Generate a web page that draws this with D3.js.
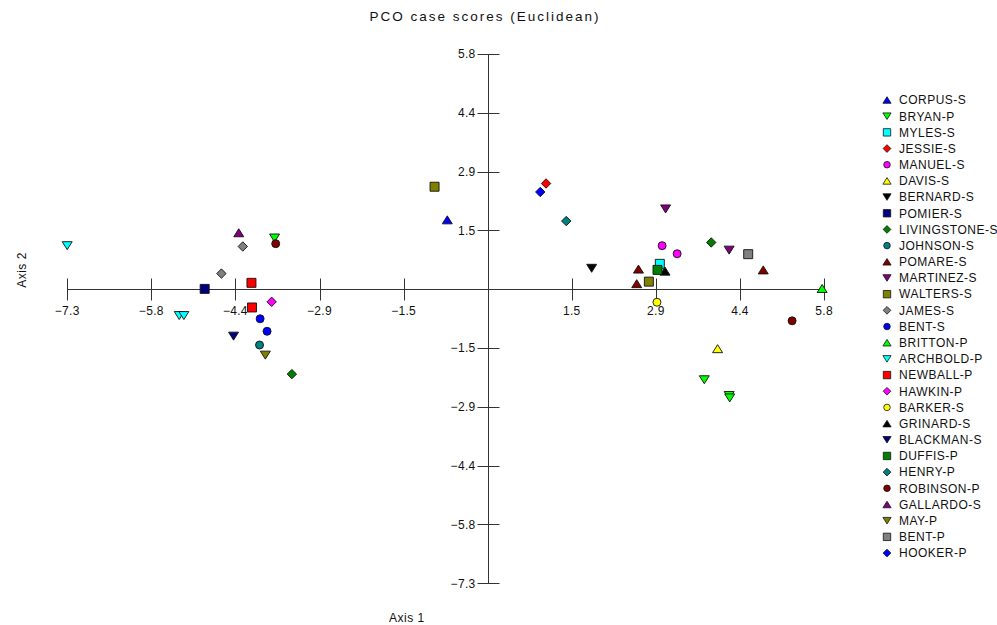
<!DOCTYPE html>
<html>
<head>
<meta charset="utf-8">
<script src="https://cdn.jsdelivr.net/npm/d3@7"></script>
<style>
  html, body { margin: 0; padding: 0; background: #fff; }
  svg { display: block; font-family: "Liberation Sans", Arial, sans-serif; }
</style>
</head>
<body>
<div id="chart"></div>
<script>
// ── Data ─────────────────────────────────────────────────────────────────────

const caseNames = [
  "CORPUS-S", "BRYAN-P", "MYLES-S", "JESSIE-S", "MANUEL-S", "DAVIS-S", "BERNARD-S",
  "POMIER-S", "LIVINGSTONE-S", "JOHNSON-S", "POMARE-S", "MARTINEZ-S", "WALTERS-S",
  "JAMES-S", "BENT-S", "BRITTON-P", "ARCHBOLD-P", "NEWBALL-P", "HAWKIN-P", "BARKER-S",
  "GRINARD-S", "BLACKMAN-S", "DUFFIS-P", "HENRY-P", "ROBINSON-P", "GALLARDO-S",
  "MAY-P", "BENT-P", "HOOKER-P"
];

// [case, axis 1, axis 2]
const scores = [
  ["CORPUS-S", -0.70, 1.72],
  ["BRYAN-P", -3.69, 1.27], ["BRYAN-P", 3.75, -2.24], ["BRYAN-P", 4.18, -2.63], ["BRYAN-P", 4.19, -2.69],
  ["MYLES-S", 2.98, 0.63],
  ["JESSIE-S", 1.01, 2.62],
  ["MANUEL-S", 3.02, 1.08], ["MANUEL-S", 3.28, 0.88],
  ["DAVIS-S", 3.98, -1.47],
  ["BERNARD-S", 1.80, 0.52],
  ["POMIER-S", -4.90, 0.01],
  ["LIVINGSTONE-S", -3.39, -2.10], ["LIVINGSTONE-S", 3.87, 1.16],
  ["JOHNSON-S", -3.95, -1.38],
  ["POMARE-S", 2.61, 0.50], ["POMARE-S", 2.58, 0.14], ["POMARE-S", 4.77, 0.48],
  ["MARTINEZ-S", 3.08, 1.99], ["MARTINEZ-S", 4.18, 0.97],
  ["WALTERS-S", -0.92, 2.54], ["WALTERS-S", 2.79, 0.19],
  ["JAMES-S", -4.24, 1.06], ["JAMES-S", -4.61, 0.39],
  ["BENT-S", -3.94, -0.73], ["BENT-S", -3.82, -1.04],
  ["BRITTON-P", 5.79, 0.02],
  ["ARCHBOLD-P", -7.28, 1.08], ["ARCHBOLD-P", -5.34, -0.65], ["ARCHBOLD-P", -5.26, -0.65],
  ["NEWBALL-P", -4.09, 0.16], ["NEWBALL-P", -4.08, -0.45],
  ["HAWKIN-P", -3.74, -0.31],
  ["BARKER-S", 2.93, -0.32],
  ["GRINARD-S", 3.07, 0.45],
  ["BLACKMAN-S", -4.40, -1.16],
  ["DUFFIS-P", 2.94, 0.48],
  ["HENRY-P", 1.36, 1.69],
  ["ROBINSON-P", -3.67, 1.13], ["ROBINSON-P", 5.27, -0.78],
  ["GALLARDO-S", -4.31, 1.40],
  ["MAY-P", -3.85, -1.63],
  ["BENT-P", 4.51, 0.87],
  ["HOOKER-P", 0.91, 2.41]
];

// same ticks on both axes (origin tick not labelled)
const axisTicks = [-7.28, -5.824, -4.368, -2.912, -1.456, 1.456, 2.912, 4.368, 5.824];
const axisDomain = [-7.28, 5.824];

// ── Styles ───────────────────────────────────────────────────────────────────

const palette = ["#0000ff", "#00ff00", "#00ffff", "#ff0000", "#ff00ff", "#ffff00", "#000000",
  "#000080", "#008000", "#008080", "#800000", "#800080", "#808000", "#808080"];
const shapes = ["up", "down", "square", "diamond", "circle"];

function markerPath(shape, k) {
  const s = k || 1;
  switch (shape) {
    case "up": return `M0,${-4 * s}L${5 * s},${4 * s}L${-5 * s},${4 * s}Z`;
    case "down": return `M${-5 * s},${-4 * s}L${5 * s},${-4 * s}L0,${4 * s}Z`;
    case "square": return `M${-4.5 * s},${-4.5 * s}h${9 * s}v${9 * s}h${-9 * s}Z`;
    case "diamond": return `M0,${-4.7 * s}L${4.7 * s},0L0,${4.7 * s}L${-4.7 * s},0Z`;
    default: return d3.symbol(d3.symbolCircle, Math.PI * 16 * s * s)();
  }
}

const styleOf = (name) => {
  const i = caseNames.indexOf(name);
  return { color: palette[i % palette.length], shape: shapes[i % shapes.length] };
};

// snap a coordinate to the pixel grid for 1px lines
const px = (v) => Math.round(v) + 0.5;

// ── Chart ────────────────────────────────────────────────────────────────────

const width = 997, height = 625;
const svg = d3.select("#chart").append("svg").attr("width", width).attr("height", height);

const x = d3.scaleLinear().domain(axisDomain).range([67.2, 824.1]);
const y = d3.scaleLinear().domain(axisDomain).range([583.3, 54.1]);
const x0 = px(x(0)), y0 = px(y(0));
const fmt = d3.format(".1f");

// title
svg.append("text")
  .attr("x", 485).attr("y", 21)
  .attr("text-anchor", "middle")
  .attr("font-size", "13.5px").attr("letter-spacing", "2px")
  .attr("fill", "#111")
  .text("PCO case scores (Euclidean)");

// axis lines
const axes = svg.append("g").attr("stroke", "#333").attr("stroke-width", 1);
axes.append("line").attr("x1", px(x(axisDomain[0]))).attr("x2", px(x(axisDomain[1]))).attr("y1", y0).attr("y2", y0);
axes.append("line").attr("x1", x0).attr("x2", x0).attr("y1", px(y(axisDomain[1]))).attr("y2", px(y(axisDomain[0])));

for (const t of axisTicks) {
  axes.append("line").attr("x1", px(x(t))).attr("x2", px(x(t))).attr("y1", y0 - 11).attr("y2", y0 + 11);
  axes.append("line").attr("x1", x0 - 11).attr("x2", x0 + 11).attr("y1", px(y(t))).attr("y2", px(y(t)));

  svg.append("text")
    .attr("x", x(t)).attr("y", y0 + 25)
    .attr("text-anchor", "middle")
    .attr("font-size", "12px").attr("letter-spacing", "0.3px")
    .attr("fill", "#111")
    .text(fmt(t));

  svg.append("text")
    .attr("x", x0 - 13).attr("y", y(t))
    .attr("dy", "0.35em")
    .attr("text-anchor", "end")
    .attr("font-size", "12px").attr("letter-spacing", "0.3px")
    .attr("fill", "#111")
    .text(fmt(t));
}

// axis titles
svg.append("text")
  .attr("x", 389).attr("y", 622)
  .attr("font-size", "12px").attr("letter-spacing", "0.5px")
  .attr("fill", "#111")
  .text("Axis 1");

svg.append("text")
  .attr("transform", "translate(26,270) rotate(-90)")
  .attr("text-anchor", "middle")
  .attr("font-size", "12px").attr("letter-spacing", "0.5px")
  .attr("fill", "#111")
  .text("Axis 2");

// points, drawn in legend order so later cases sit on top
const ordered = scores.slice().sort((a, b) => caseNames.indexOf(a[0]) - caseNames.indexOf(b[0]));
svg.append("g")
  .selectAll("path")
  .data(ordered)
  .join("path")
  .attr("transform", (d) => `translate(${x(d[1])},${y(d[2])})`)
  .attr("d", (d) => markerPath(styleOf(d[0]).shape, 1))
  .attr("fill", (d) => styleOf(d[0]).color)
  .attr("stroke", "#111")
  .attr("stroke-width", 0.9);

// legend
const legend = svg.append("g").attr("transform", "translate(887,100)");
caseNames.forEach((name, i) => {
  const st = styleOf(name);
  const row = legend.append("g").attr("transform", `translate(0,${i * 16.18})`);
  row.append("path")
    .attr("d", markerPath(st.shape, 0.82))
    .attr("fill", st.color)
    .attr("stroke", "#111")
    .attr("stroke-width", 0.8);
  row.append("text")
    .attr("x", 12).attr("dy", "0.36em")
    .attr("font-size", "12px").attr("letter-spacing", "0.5px")
    .attr("fill", "#111")
    .text(name);
});
</script>
</body>
</html>
